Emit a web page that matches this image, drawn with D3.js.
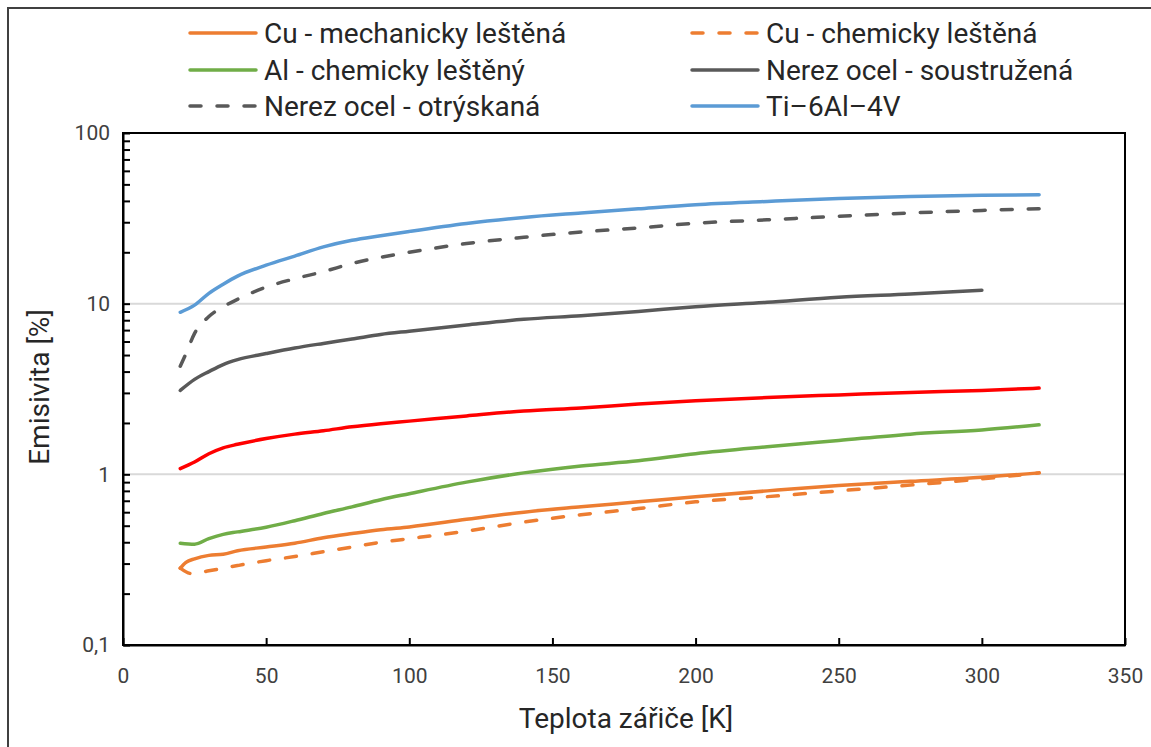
<!DOCTYPE html>
<html><head><meta charset="utf-8">
<script src="https://cdn.jsdelivr.net/npm/d3@7"></script>
<style>
html,body{margin:0;padding:0;background:#fff;}
svg{display:block;font-family:Roboto,"Noto Sans",sans-serif;}
</style></head>
<body>
<svg id="chart" width="1151" height="747"></svg>
<script>
// ---- data ----
const xTicks = [0, 50, 100, 150, 200, 250, 300, 350];
const yTicks = [0.1, 1, 10, 100];
const yTickLabels = ["0,1", "1", "10", "100"];

const cuMechX = [20, 22, 25, 30, 35, 40, 50, 60, 70, 80, 90, 100, 120, 140, 160, 180, 200, 225, 250, 275, 300, 320];
const cuMechY = [0.282, 0.305, 0.32, 0.335, 0.34, 0.357, 0.375, 0.395, 0.425, 0.45, 0.474, 0.492, 0.545, 0.6, 0.645, 0.69, 0.74, 0.8, 0.86, 0.91, 0.96, 1.02];

const cuChemX = [20, 24, 30, 40, 50, 60, 70, 80, 90, 100, 120, 140, 160, 180, 200, 225, 250, 275, 300, 320];
const cuChemY = [0.282, 0.262, 0.272, 0.292, 0.312, 0.33, 0.352, 0.375, 0.4, 0.42, 0.465, 0.525, 0.58, 0.63, 0.69, 0.74, 0.8, 0.865, 0.94, 1.02];

const alX = [20, 25, 30, 35, 40, 50, 60, 70, 80, 90, 100, 120, 140, 160, 180, 200, 225, 250, 275, 300, 320];
const alY = [0.395, 0.39, 0.42, 0.445, 0.46, 0.49, 0.535, 0.59, 0.645, 0.71, 0.77, 0.9, 1.02, 1.12, 1.2, 1.32, 1.45, 1.58, 1.72, 1.82, 1.95];

const ssTurnedX = [20, 25, 30, 35, 40, 50, 60, 70, 80, 90, 100, 120, 140, 160, 180, 200, 225, 250, 275, 300];
const ssTurnedY = [3.1, 3.6, 4.0, 4.4, 4.7, 5.1, 5.5, 5.85, 6.2, 6.6, 6.9, 7.5, 8.1, 8.5, 9.0, 9.6, 10.2, 10.9, 11.4, 12.0];

const ssBlastX = [20, 22, 25, 30, 35, 40, 50, 60, 70, 80, 100, 120, 140, 160, 180, 200, 225, 250, 275, 300, 320];
const ssBlastY = [4.3, 5.1, 6.7, 8.4, 9.6, 10.6, 12.5, 14, 15.4, 17.2, 20, 22.5, 24.5, 26.3, 27.8, 29.6, 31, 32.5, 34, 35.2, 36];

const tiX = [20, 25, 30, 35, 40, 50, 60, 70, 80, 90, 100, 120, 140, 160, 180, 200, 225, 250, 275, 300, 320];
const tiY = [8.9, 9.8, 11.5, 13, 14.5, 16.8, 19, 21.5, 23.5, 25, 26.5, 29.5, 32, 34, 36, 38, 39.7, 41.3, 42.5, 43.2, 43.5];

const redX = [20, 25, 30, 35, 40, 50, 60, 70, 80, 90, 100, 120, 140, 160, 180, 200, 225, 250, 275, 300, 320];
const redY = [1.08, 1.18, 1.32, 1.43, 1.5, 1.62, 1.72, 1.8, 1.9, 1.98, 2.05, 2.2, 2.35, 2.45, 2.58, 2.7, 2.82, 2.92, 3.02, 3.1, 3.2];

const seriesNames = ["Cu - mechanicky leštěná", "Cu - chemicky leštěná", "Al - chemicky leštěný", "Nerez ocel - soustružená", "Nerez ocel - otrýskaná", "Ti\u20136Al\u20134V"];

// ---- chart ----
const svg = d3.select("#chart");
const x = d3.scaleLinear().domain([0, 350]).range([123, 1125]);
const y = d3.scaleLog().domain([0.1, 100]).range([645, 133]);

// outer border
svg.append("rect").attr("x", 8).attr("y", 8).attr("width", 1160).attr("height", 760)
  .attr("fill", "none").attr("stroke", "#404040").attr("stroke-width", 2);

// gridlines
svg.append("g").selectAll("line").data([1, 10]).join("line")
  .attr("x1", x(0)).attr("x2", x(350)).attr("y1", d => y(d)).attr("y2", d => y(d))
  .attr("stroke", "#d9d9d9").attr("stroke-width", 2);

const series = [
  {name: seriesNames[0], xs: cuMechX, ys: cuMechY, color: "#ED7D31", dash: null},
  {name: seriesNames[1], xs: cuChemX, ys: cuChemY, color: "#ED7D31", dash: "11,16"},
  {name: seriesNames[2], xs: alX, ys: alY, color: "#70AD47", dash: null},
  {name: seriesNames[3], xs: ssTurnedX, ys: ssTurnedY, color: "#595959", dash: null},
  {name: seriesNames[4], xs: ssBlastX, ys: ssBlastY, color: "#595959", dash: "11,16"},
  {name: seriesNames[5], xs: tiX, ys: tiY, color: "#5B9BD5", dash: null},
  {name: null, xs: redX, ys: redY, color: "#FF0000", dash: null}
];

const line = d3.line().x(d => x(d[0])).y(d => y(d[1])).curve(d3.curveMonotoneX);
const gLines = svg.append("g");
series.forEach(s => {
  const pts = s.xs.map((v, i) => [v, s.ys[i]]);
  gLines.append("path").datum(pts).attr("d", line)
    .attr("fill", "none").attr("stroke", s.color).attr("stroke-width", 3.5)
    .attr("stroke-linecap", "round").attr("stroke-linejoin", "round")
    .attr("stroke-dasharray", s.dash);
});

// plot box
svg.append("rect").attr("x", x(0)).attr("y", y(100)).attr("width", x(350) - x(0)).attr("height", y(0.1) - y(100))
  .attr("fill", "none").attr("stroke", "#000").attr("stroke-width", 2);

// y axis with minor ticks
const yAll = [];
[0.1, 1, 10].forEach(dec => { for (let k = 1; k <= 9; k++) yAll.push(dec * k); });
yAll.push(100);
const yAxis = d3.axisLeft(y).tickValues(yAll).tickSizeInner(-7).tickSizeOuter(0).tickPadding(13)
  .tickFormat(d => { const i = yTicks.findIndex(t => Math.abs(t - d) < 1e-9); return i >= 0 ? yTickLabels[i] : ""; });
const gy = svg.append("g").attr("transform", `translate(${x(0)},0)`).call(yAxis);
gy.select(".domain").attr("stroke", "#000").attr("stroke-width", 2);
gy.selectAll(".tick line").attr("stroke", "#000").attr("stroke-width", 2);
gy.selectAll(".tick text").attr("fill", "#404040").attr("font-size", 21).attr("font-family", "Roboto");

const xAxis = d3.axisBottom(x).tickValues(xTicks).tickSizeInner(-7).tickSizeOuter(0).tickPadding(23).tickFormat(d3.format("d"));
const gx = svg.append("g").attr("transform", `translate(0,${y(0.1)})`).call(xAxis);
gx.select(".domain").attr("stroke", "#000").attr("stroke-width", 2);
gx.selectAll(".tick line").attr("stroke", "#000").attr("stroke-width", 2);
gx.selectAll(".tick text").attr("fill", "#404040").attr("font-size", 21).attr("font-family", "Roboto");

// axis titles
svg.append("text").attr("x", 626).attr("y", 728).attr("text-anchor", "middle")
  .attr("font-size", 28).attr("fill", "#262626").text("Teplota zářiče [K]");
svg.append("text").attr("transform", "translate(49,387) rotate(-90)").attr("text-anchor", "middle")
  .attr("font-size", 28).attr("fill", "#262626").text("Emisivita [%]");

// legend
const legendPos = [
  {lx: 188, ly: 33}, {lx: 690, ly: 33},
  {lx: 188, ly: 70}, {lx: 690, ly: 70},
  {lx: 188, ly: 106}, {lx: 690, ly: 106}
];
const gLeg = svg.append("g");
series.slice(0, 6).forEach((s, i) => {
  const p = legendPos[i];
  gLeg.append("line").attr("x1", p.lx + 2).attr("x2", p.lx + 68).attr("y1", p.ly).attr("y2", p.ly)
    .attr("stroke", s.color).attr("stroke-width", 3.5).attr("stroke-linecap", "round")
    .attr("stroke-dasharray", s.dash ? "11,16" : null);
  gLeg.append("text").attr("x", p.lx + 76).attr("y", p.ly + 10)
    .attr("font-size", 28).attr("fill", "#262626").text(s.name);
});
</script>
</body></html>
